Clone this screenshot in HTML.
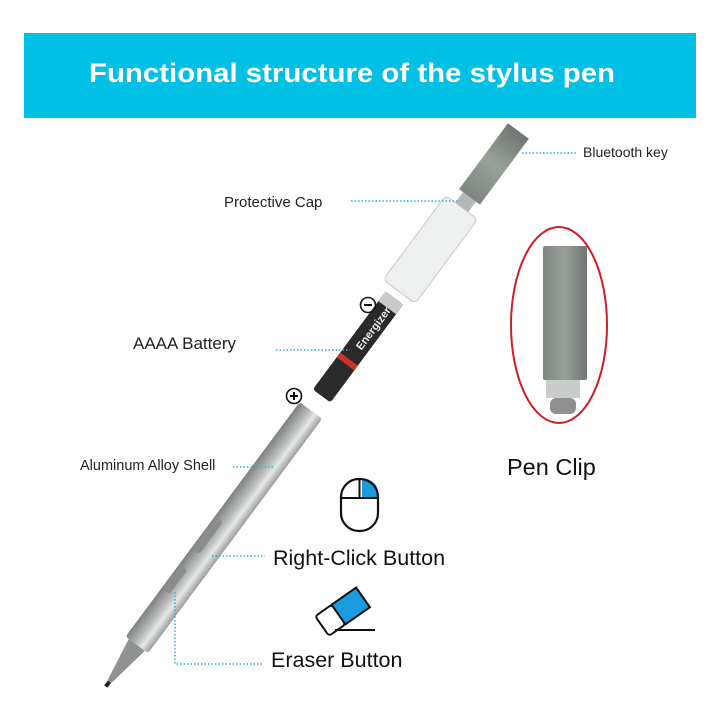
<!DOCTYPE html>
<html><head><meta charset="utf-8"><style>
html,body{margin:0;padding:0;background:#fff;width:720px;height:720px;overflow:hidden}
svg{display:block}
text{font-family:"Liberation Sans",sans-serif}
</style></head><body>
<svg width="720" height="720" viewBox="0 0 720 720" xmlns="http://www.w3.org/2000/svg">
<defs>
<linearGradient id="sh" x1="0" y1="0" x2="0" y2="1">
<stop offset="0" stop-color="#7d807f"/><stop offset="0.45" stop-color="#b8bbba"/><stop offset="0.7" stop-color="#e6e8e7"/><stop offset="1" stop-color="#9a9d9c"/></linearGradient>
<linearGradient id="cl" x1="0" y1="0" x2="1" y2="0">
<stop offset="0" stop-color="#7f8681"/><stop offset="0.5" stop-color="#98a09a"/><stop offset="1" stop-color="#6f7671"/></linearGradient>
</defs>
<rect x="24" y="33" width="672" height="85" fill="#00c0e6"/>
<text x="89" y="82" font-size="27" font-weight="bold" fill="#fff" textLength="526" lengthAdjust="spacingAndGlyphs">Functional structure of the stylus pen</text>

<g transform="translate(107,685) rotate(-53.4)">
  <polygon points="0,-1 8,-3 50,-10 50,10 8,3 0,1" fill="#8f9291"/>
  <rect x="-2" y="-2" width="6" height="4" fill="#222"/>
  <rect x="50" y="-14" width="292" height="28" rx="3" fill="url(#sh)"/>
  <rect x="110" y="-12" width="30" height="8" rx="3" fill="#8a8d8c"/>
  <rect x="160" y="-12" width="40" height="8" rx="3" fill="#8a8d8c"/>
  <rect x="360" y="-11" width="122" height="22" rx="3" fill="#2a2a2a"/>
  <rect x="470" y="-11" width="12" height="22" fill="#c9cbca"/>
  <rect x="400" y="-11" width="6" height="22" fill="#c8332b"/>
  <text x="420" y="5" font-size="11" font-weight="bold" fill="#eee">Energizer</text>
  <rect x="490" y="-20" width="105" height="40" rx="5" fill="#eef0f0" stroke="#c8cccc"/>
  <rect x="595" y="-8" width="14" height="16" fill="#b5b8b7"/>
  <rect x="608" y="-13" width="82" height="26" fill="url(#cl)"/>
</g>

<ellipse cx="559" cy="325" rx="48" ry="98" fill="none" stroke="#d01c24" stroke-width="2"/>
<rect x="543" y="246" width="44" height="134" rx="2" fill="url(#cl)"/>
<rect x="546" y="380" width="34" height="18" fill="#c9cccb"/>
<rect x="550" y="398" width="26" height="16" rx="6" fill="#8e908f"/>

<g stroke="#26b4d8" stroke-width="1.5" stroke-dasharray="1.5 2" fill="none">
<line x1="522" y1="153" x2="578" y2="153"/>
<line x1="351" y1="201" x2="460" y2="201"/>
<line x1="276" y1="350" x2="350" y2="350"/>
<line x1="233" y1="467" x2="275" y2="467"/>
<line x1="212" y1="556" x2="265" y2="556"/>
<polyline points="175,592 175,664 262,664"/>
</g>

<text x="583" y="157" font-size="14" fill="#222">Bluetooth key</text>
<text x="224" y="207" font-size="15" fill="#222">Protective Cap</text>
<text x="133" y="349" font-size="17" fill="#222">AAAA Battery</text>
<text x="80" y="470" font-size="14.5" fill="#222">Aluminum Alloy Shell</text>
<text x="507" y="475" font-size="23.5" fill="#111">Pen Clip</text>
<text x="273" y="565" font-size="21.5" fill="#111">Right-Click Button</text>
<text x="271" y="667" font-size="21.5" fill="#111">Eraser Button</text>

<circle cx="368" cy="305" r="7.5" fill="none" stroke="#111" stroke-width="1.6"/>
<line x1="364" y1="305" x2="372" y2="305" stroke="#111" stroke-width="2"/>
<circle cx="294" cy="396" r="7.5" fill="none" stroke="#111" stroke-width="1.6"/>
<line x1="290" y1="396" x2="298" y2="396" stroke="#111" stroke-width="2"/>
<line x1="294" y1="392" x2="294" y2="400" stroke="#111" stroke-width="2"/>

<path d="M362,479 L362,498 L378,498 L378,494 Q378,479 362,479 Z" fill="#1a9be0"/>
<rect x="341" y="479" width="37" height="52" rx="18" fill="none" stroke="#111" stroke-width="2.2"/>
<line x1="341" y1="498" x2="378" y2="498" stroke="#111" stroke-width="2"/>
<line x1="359.5" y1="479" x2="359.5" y2="498" stroke="#111" stroke-width="2"/>

<g transform="translate(345,610) rotate(-35)">
<rect x="-8" y="-12" width="30" height="24" fill="#1a9be0" stroke="#111" stroke-width="2"/>
<rect x="-28" y="-12" width="20" height="24" rx="3" fill="#fff" stroke="#111" stroke-width="2"/>
</g>
<line x1="335" y1="630" x2="375" y2="630" stroke="#111" stroke-width="2"/>
</svg>
</body></html>
